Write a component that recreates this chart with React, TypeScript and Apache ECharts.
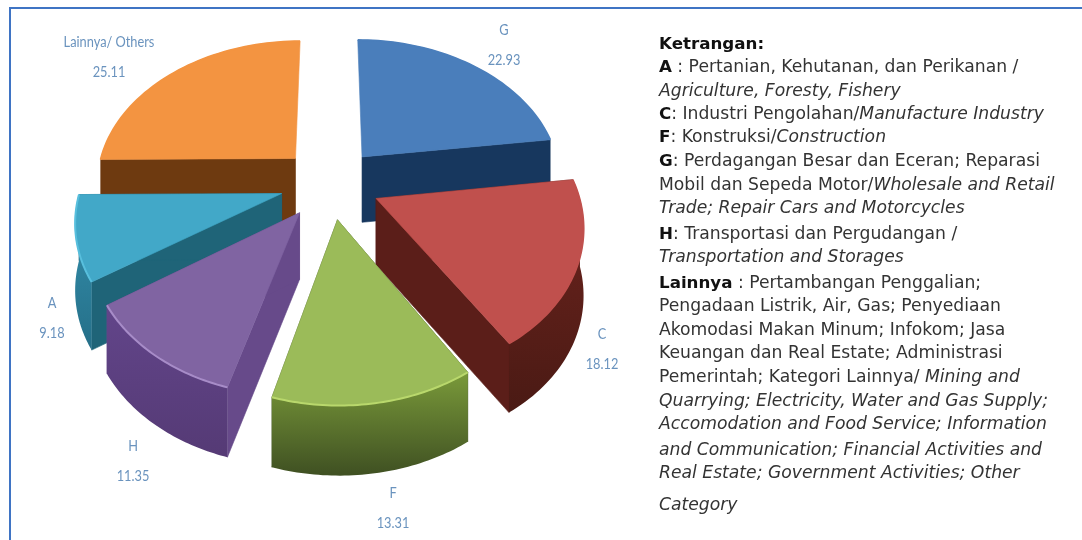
import React, { useEffect, useRef } from "react";
import * as echarts from "echarts";

const sliceNames = ["G", "C", "F", "H", "A", "Lainnya/ Others"];
const sliceValues = [22.93, 18.12, 13.31, 11.35, 9.18, 25.11];
const drawOrder = [5, 0, 1, 4, 3, 2];
const topColors = ["#4A7EBB", "#C0504D", "#9BBB59", "#8064A2", "#42A8C8", "#F39441"];
const startWallColors = ["none", "#5B1E19", "#46592A", "#674A8A", "#1F6478", "#6E3A10"];
const endWallColors = ["#17375E", "#5B1E19", "#46592A", "#674A8A", "#1F6478", "none"];
const rimFrom = ["#17375E", "#6B231D", "#7A9A3A", "#62458A", "#3592B0", "#6E3A10"];
const rimTo = ["#17375E", "#4A1A14", "#3F5022", "#553A75", "#256F88", "#6E3A10"];
const rimLights = ["#4A7EBB", "#C0504D", "#B9D86C", "#A78CC8", "#58BFDD", "#F39441"];

const labelValues = ["22.93", "18.12", "13.31", "11.35", "9.18", "25.11"];
const labelX = [504, 602, 393, 133, 52, 109];
const labelY = [29, 333, 492, 445, 302, 41];

const noteLines = [
  "{b|Ketrangan:}",
  "{b|A} : Pertanian, Kehutanan, dan Perikanan /",
  "{i|Agriculture, Foresty, Fishery}",
  "{b|C}: Industri Pengolahan/{i|Manufacture Industry}",
  "{b|F}: Konstruksi/{i|Construction}",
  "{b|G}: Perdagangan Besar dan Eceran; Reparasi",
  "Mobil dan Sepeda Motor/{i|Wholesale and Retail}",
  "{i|Trade; Repair Cars and Motorcycles}",
  "{b|H}: Transportasi dan Pergudangan /",
  "{i|Transportation and Storages}",
  "{b|Lainnya} : Pertambangan Penggalian;",
  "Pengadaan Listrik, Air, Gas; Penyediaan",
  "Akomodasi Makan Minum; Infokom; Jasa",
  "Keuangan dan Real Estate; Administrasi",
  "Pemerintah; Kategori Lainnya/ {i|Mining and}",
  "{i|Quarrying; Electricity, Water and Gas Supply;}",
  "{i|Accomodation and Food Service; Information}",
  "{i|and Communication; Financial Activities and}",
  "{i|Real Estate; Government Activities; Other}",
  "{i|Category}",
];
const noteBaselines = [43, 66, 90, 113, 136, 160, 184, 207, 233, 256, 282, 305, 329, 352, 376, 400, 423, 449, 472, 504];

const total = sliceValues.reduce((a, b) => a + b, 0);
const cumulative = sliceValues.map((_, i) => sliceValues.slice(0, i).reduce((a, b) => a + b, 0));

// Camera of the tilted, exploded pie
const CX = 330, CY = 183, RX = 200, RY = 143, PERSP = 0.159, EXPLODE = 0.25, DEPTH = 66;
const project = (u: number, v: number, down = 0) => {
  const w = 1 - PERSP * v;
  return [CX + (RX * u) / w, CY + (RY * v) / w + down * DEPTH * (1 + 0.05 * v)];
};

function renderSlice(_: any, api: any) {
  const i = api.value(0);
  const a0 = (api.value(1) / total) * Math.PI * 2;
  const a1 = a0 + (api.value(2) / total) * Math.PI * 2;
  const mid = (a0 + a1) / 2;
  const ox = EXPLODE * Math.sin(mid), oy = -EXPLODE * Math.cos(mid);
  const rim = (a: number) => [ox + Math.sin(a), oy - Math.cos(a)];
  const steps = 48;
  const angles: number[] = [];
  for (let s = 0; s <= steps; s++) angles.push(a0 + ((a1 - a0) * s) / steps);
  const topPts = angles.map((a) => { const p = rim(a); return project(p[0], p[1]); });
  const botPts = angles.map((a) => { const p = rim(a); return project(p[0], p[1], 1); });
  const apexTop = project(ox, oy);
  const apexBot = project(ox, oy, 1);
  const poly = (points: number[][], fill: any) => ({
    type: "polygon",
    shape: { points },
    style: { fill, stroke: typeof fill === "string" ? fill : undefined, lineWidth: 0.6 },
  });
  // Only the part of the rim that faces the viewer has a visible outer wall
  const faces = angles.map((a) => Math.cos(a) <= 0);
  const rimTop = topPts.filter((_p, k) => faces[k]);
  const rimBot = botPts.filter((_p, k) => faces[k]);
  const children: any[] = [
    poly([apexTop, topPts[0], botPts[0], apexBot], startWallColors[i]),
    poly([apexTop, topPts[steps], botPts[steps], apexBot], endWallColors[i]),
  ];
  if (rimTop.length > 1) {
    children.push(poly([...rimTop, ...rimBot.slice().reverse()], {
      type: "linear", x: 0, y: 0, x2: 0, y2: 1,
      colorStops: [{ offset: 0, color: rimFrom[i] }, { offset: 1, color: rimTo[i] }],
    }));
  }
  children.push(poly([apexTop, ...topPts], topColors[i]));
  children.push({ type: "polyline", shape: { points: topPts }, style: { fill: "none", stroke: rimLights[i], lineWidth: 2 } });
  return { type: "group", children };
}

export default function App() {
  const ref = useRef<HTMLDivElement>(null);
  useEffect(() => {
    document.body.style.margin = "0";
    const chart = echarts.init(ref.current!, undefined, { renderer: "svg" });
    const labelEls: any[] = [];
    sliceNames.forEach((name, i) => {
      [name, labelValues[i]].forEach((text, row) => {
        labelEls.push({
          type: "text", x: labelX[i], y: labelY[i] + row * 29.5, scaleX: 0.8, silent: true,
          style: { text, x: 0, y: 0, align: "center", verticalAlign: "middle",
            font: '16px Lato', fill: "#6A93BE" },
        });
      });
    });
    chart.setOption({
      animation: false,
      backgroundColor: "#ffffff",
      series: [
        {
          type: "custom",
          coordinateSystem: "none",
          silent: true,
          renderItem: renderSlice,
          data: drawOrder.map((i) => [i, cumulative[i], sliceValues[i]]),
        },
      ],
      graphic: [
        { type: "rect", shape: { x: 10, y: 8, width: 1200, height: 700 }, style: { fill: "none", stroke: "#3F74C4", lineWidth: 2 }, silent: true },
        ...labelEls,
        ...noteLines.map((line, i) => ({
          type: "text", x: 659, y: noteBaselines[i], silent: true,
          style: {
            text: line, x: 0, y: 0, align: "left", verticalAlign: "middle",
            font: '17.2px "DejaVu Sans"', fill: "#333333",
            rich: {
              b: { font: 'bold 16.7px "DejaVu Sans"', fill: "#111111" },
              i: { font: 'italic 17.2px "DejaVu Sans"', fill: "#333333" },
            },
          },
        })),
      ],
    });
    return () => chart.dispose();
  }, []);
  return <div ref={ref} style={{ width: 1082, height: 540, filter: "blur(0.6px)" }} />;
}
